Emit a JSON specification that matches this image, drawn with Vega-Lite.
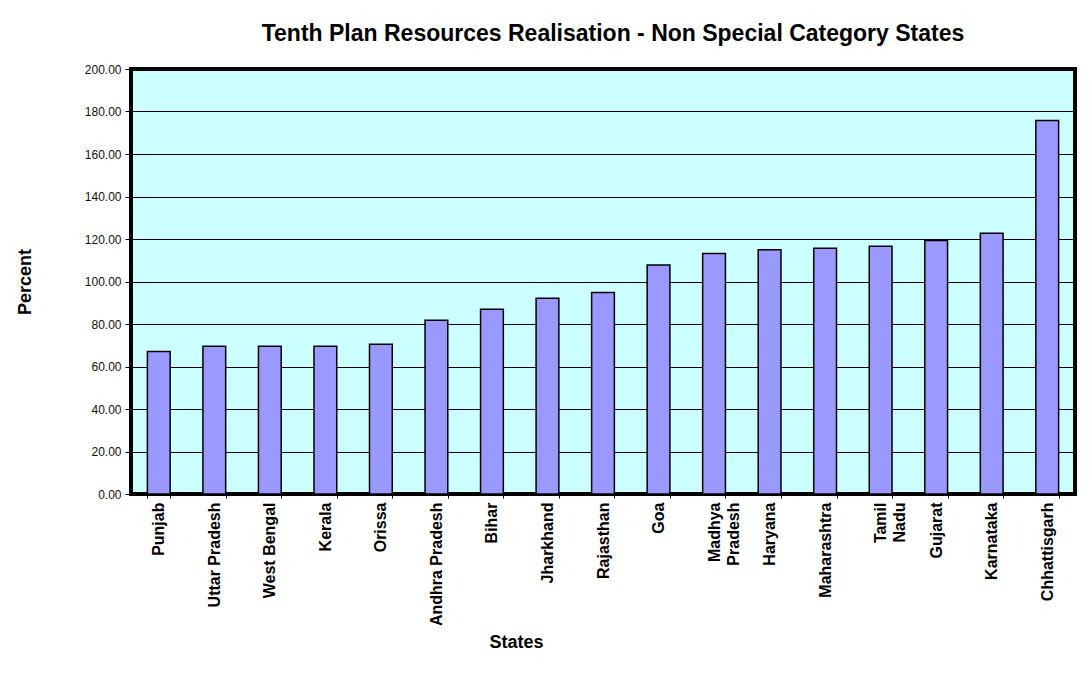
{
  "$schema": "https://vega.github.io/schema/vega-lite/v6.json",
  "autosize": {"type": "none"},
  "padding": {"left": 131, "top": 69, "right": 16, "bottom": 179},
  "width": 944,
  "height": 425,
  "background": "white",
  "title": {
    "text": "Tenth Plan Resources Realisation - Non Special Category States",
    "font": "Liberation Sans",
    "fontSize": 23,
    "fontWeight": "bold",
    "color": "black",
    "anchor": "middle",
    "dx": 10,
    "offset": 17
  },
  "data": {
    "values": [
      {"State": "Punjab", "Percent": 67.1},
      {"State": "Uttar Pradesh", "Percent": 69.5},
      {"State": "West Bengal", "Percent": 69.5},
      {"State": "Kerala", "Percent": 69.5},
      {"State": "Orissa", "Percent": 70.5},
      {"State": "Andhra Pradesh", "Percent": 81.8},
      {"State": "Bihar", "Percent": 87.0},
      {"State": "Jharkhand", "Percent": 92.1},
      {"State": "Rajasthan", "Percent": 94.8},
      {"State": "Goa", "Percent": 107.8},
      {"State": "Madhya|Pradesh", "Percent": 113.2},
      {"State": "Haryana", "Percent": 114.9},
      {"State": "Maharashtra", "Percent": 115.7},
      {"State": "Tamil|Nadu", "Percent": 116.6},
      {"State": "Gujarat", "Percent": 119.3},
      {"State": "Karnataka", "Percent": 122.7},
      {"State": "Chhattisgarh", "Percent": 175.8}
    ]
  },
  "mark": {"type": "bar", "color": "#9999FF", "stroke": "black", "strokeWidth": 1.5},
  "encoding": {
    "x": {
      "field": "State",
      "type": "nominal",
      "sort": null,
      "scale": {"paddingInner": 0.59, "paddingOuter": 0.295},
      "axis": {
        "title": "States",
        "titleFont": "Liberation Sans",
        "titleFontSize": 18,
        "titleFontWeight": "bold",
        "titleColor": "black",
        "titleX": 385,
        "titleY": 139,
        "titleAlign": "center",
        "titleBaseline": "top",
        "labelAngle": -90,
        "labelExpr": "split(datum.label, '|')",
        "labelFont": "Liberation Sans",
        "labelFontSize": 16,
        "labelFontWeight": "bold",
        "labelColor": "black",
        "labelLineHeight": 19,
        "labelLimit": 0,
        "labelPadding": 4,
        "labelOverlap": false,
        "tickBand": "extent",
        "tickSize": 4,
        "tickColor": "black",
        "domain": false,
        "grid": false
      }
    },
    "y": {
      "field": "Percent",
      "type": "quantitative",
      "scale": {"domain": [0, 200], "nice": false},
      "axis": {
        "title": "Percent",
        "titleFont": "Liberation Sans",
        "titleFontSize": 18,
        "titleFontWeight": "bold",
        "titleColor": "black",
        "titlePadding": 50,
        "values": [0, 20, 40, 60, 80, 100, 120, 140, 160, 180, 200],
        "format": ".2f",
        "labelFont": "Liberation Sans",
        "labelFontSize": 12,
        "labelColor": "#111111",
        "labelPadding": 4,
        "tickSize": 6,
        "tickColor": "black",
        "domain": false,
        "grid": true,
        "gridColor": "black",
        "gridWidth": 1,
        "gridOpacity": 1
      }
    }
  },
  "config": {
    "view": {"fill": "#CCFFFF", "stroke": "black", "strokeWidth": 4}
  }
}
